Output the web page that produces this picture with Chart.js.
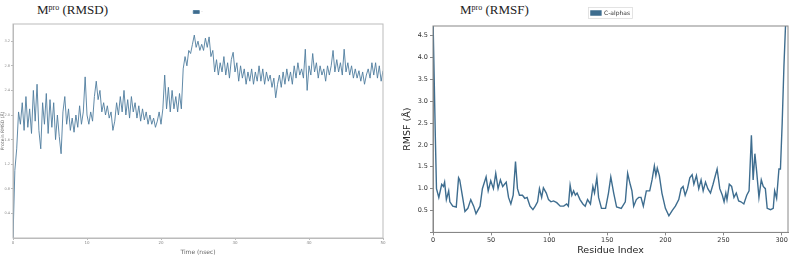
<!DOCTYPE html>
<html>
<head>
<meta charset="utf-8">
<script src="https://cdn.jsdelivr.net/npm/chart.js@4.4.0/dist/chart.umd.min.js"></script>
<style>
body { margin: 0; background: #fff; width: 793px; height: 256px; overflow: hidden; position: relative; }
canvas { position: absolute; top: 0; }
#rmsdChart { left: 0; }
#rmsfChart { left: 400px; }
.ttl { position: absolute; top: 3px; font-family: "Liberation Serif", serif; font-size: 13px; line-height: 14px; color: #222; white-space: nowrap; }
.ttl span { font-size: 8px; position: relative; top: -4px; }
</style>
</head>
<body>
<div class="ttl" style="left:37px">M<span>pro</span> (RMSD)</div>
<div class="ttl" style="left:460px">M<span>pro</span> (RMSF)</div>
<canvas id="rmsdChart" width="400" height="256"></canvas>
<canvas id="rmsfChart" width="393" height="256"></canvas>
<script>
// RMSD, one value every 0.25 ns (0 - 50 ns)
var rmsdStep = 0.25;
var rmsdVal = [
    0.0, 1.1, 1.45, 2.05, 1.85, 2.2, 1.75, 2.3, 1.8, 2.1,
    1.7, 2.4, 1.9, 2.5, 1.75, 1.45, 2.2, 1.85, 2.35, 1.7,
    2.25, 1.8, 2.2, 1.6, 2.0, 1.65, 1.37, 2.05, 2.3, 1.85,
    2.1, 1.75, 1.95, 1.72, 2.0, 1.8, 2.15, 1.85, 2.05, 2.62,
    2.0, 1.85, 2.05, 1.9, 2.3, 2.55, 2.25, 2.4, 2.05, 2.2,
    2.0, 2.15, 1.95, 2.05, 1.75, 1.9, 2.2, 2.0, 2.3, 2.05,
    2.4, 2.0, 2.25, 1.95, 2.3, 2.05, 2.2, 1.95, 2.15, 1.9,
    2.1, 1.92, 2.05, 1.85, 2.0, 1.85, 1.95, 1.8, 1.9, 2.05,
    1.85, 2.1, 2.65, 2.1, 2.45, 2.05, 2.4, 2.1, 2.3, 2.05,
    2.35, 2.1, 2.75, 2.95, 2.8, 3.05, 3.0, 3.15, 3.3, 3.1,
    3.2, 3.05, 3.15, 3.05, 3.25, 3.1, 3.27, 2.95, 3.05, 2.7,
    2.9, 2.65, 2.85, 2.7, 2.95, 2.65, 2.85, 2.6, 2.9, 3.02,
    2.7, 2.85, 2.55, 2.8, 2.6, 2.75, 2.5, 2.7, 2.55, 2.75,
    2.5, 2.7, 2.55, 2.8, 2.55, 2.75, 2.5, 2.7, 2.55, 2.65,
    2.45, 2.6, 2.28, 2.5, 2.65, 2.45, 2.7, 2.5, 2.75, 2.55,
    2.7, 2.5, 2.8, 2.6, 2.85, 2.65, 2.75, 2.6, 3.07, 2.4,
    2.8, 2.65, 3.0, 2.7, 2.85, 2.6, 2.8, 2.65, 2.75, 2.55,
    2.8, 2.65, 2.8, 3.05, 2.7, 2.9, 2.7, 2.85, 2.65, 3.07,
    2.7, 2.85, 2.65, 2.8, 2.6, 2.75, 2.6, 2.72, 2.55, 2.7,
    2.5, 2.65, 2.75, 2.6, 2.85, 2.65, 2.85, 2.6, 2.8, 2.55,
    2.72
];

// RMSF per residue (C-alphas)
var rmsfRes = [0, 2, 3, 5, 7.5, 9, 10, 11.5, 13.5, 14.5, 17, 20, 22, 23, 25.5, 27.5, 30, 32.5, 35, 37,
    40.5, 42.5, 45.7, 47.5, 49.7, 52, 54, 56, 58, 60, 63, 65, 67, 69, 71, 72.7, 74.4, 77, 79, 81,
    83.5, 86, 88, 90, 91.6, 93.5, 95, 97.5, 99.4, 101.5, 103.7, 106.5, 109.5, 112.5, 115, 116.5, 118, 119.5, 121, 122.5,
    124, 126.5, 129, 131, 133, 135.5, 137.6, 139, 141, 142.5, 145, 148.5, 151, 153, 155.5, 158, 162, 165.5, 167.5, 169.7,
    171.2, 172.7, 175, 177, 179, 181, 183.6, 186.5, 188.5, 190.5, 191.8, 193, 194.8, 197, 200, 203, 205.8, 208.6, 211.5, 213.5,
    215.2, 217, 219, 221, 223, 224.5, 226.7, 228.7, 230.7, 232.5, 234.5, 236.5, 238.8, 241, 243, 244.5, 246.8, 249, 250.5, 252,
    253, 255, 257, 259, 261, 263, 265, 267.5, 270, 272, 274, 275.5, 277, 278.5, 280.5, 282.5, 284.2, 286, 287.6, 290.5,
    292.8, 294, 295.7, 297.7, 299, 300.5, 302, 303.4, 305];
var rmsfVal = [4.9, 2.2, 1.0, 0.8, 1.1, 1.05, 1.15, 0.75, 0.95, 0.7, 0.6, 0.58, 1.25, 1.2, 0.8, 0.48, 0.55, 0.75, 0.6, 0.43,
    0.6, 1.0, 1.27, 0.95, 1.18, 1.0, 1.35, 1.0, 1.2, 1.05, 1.15, 0.8, 0.65, 0.85, 1.62, 1.0, 0.85, 0.85, 0.78, 0.8,
    0.6, 0.52, 0.6, 0.7, 1.0, 0.8, 1.02, 0.9, 0.75, 0.7, 0.72, 0.68, 0.6, 0.6, 0.65, 0.6, 1.08, 0.85, 0.95, 0.85,
    0.9, 0.75, 0.65, 0.6, 0.75, 0.65, 1.05, 0.9, 1.25, 0.8, 0.55, 0.55, 0.9, 1.27, 0.9, 0.58, 0.55, 0.7, 1.35, 1.1,
    0.95, 0.6, 0.75, 0.8, 0.8, 0.6, 0.95, 0.95, 1.2, 1.52, 1.3, 1.47, 1.3, 0.9, 0.55, 0.38, 0.5, 0.6, 0.75, 1.0,
    1.05, 0.85, 1.0, 1.25, 1.32, 1.1, 1.3, 1.0, 1.2, 0.95, 1.15, 1.0, 0.9, 1.1, 1.3, 1.45, 1.0, 0.85, 0.7, 0.9,
    0.75, 1.1, 1.05, 0.8, 0.9, 0.72, 0.7, 0.65, 0.85, 0.95, 2.22, 1.2, 1.8, 1.4, 0.8, 1.2, 1.05, 1.0, 0.55, 0.52,
    0.55, 0.95, 0.78, 1.45, 1.45, 2.5, 3.8, 4.75, 4.95];

var rmsdTicks = [0.4, 0.8, 1.2, 1.6, 2.0, 2.4, 2.8, 3.2];

// frame round the plot area (matplotlib spines) and an optional box round the legend
var frame = {
    id: 'frame',
    afterDraw: function (chart, args, opts) {
        var a = chart.chartArea;
        var ctx = chart.ctx;
        ctx.save();
        ctx.strokeStyle = opts.color;
        ctx.lineWidth = opts.width;
        ctx.strokeRect(a.left, a.top, a.right - a.left, a.bottom - a.top);
        if (opts.legendBox) {
            var h = chart.legend.legendHitBoxes[0];
            ctx.strokeStyle = opts.legendBox;
            ctx.lineWidth = 0.8;
            ctx.strokeRect(Math.round(h.left) - 2.5, Math.round(h.top) - 2.5, Math.round(h.width) + 5, Math.round(h.height) + 5);
        }
        ctx.restore();
    }
};

var rmsdData = rmsdVal.map(function (v, i) {
    return {x: i * rmsdStep, y: v};
});
var rmsfData = rmsfVal.map(function (v, i) {
    return {x: rmsfRes[i], y: v};
});

new Chart(document.getElementById('rmsdChart'), {
    type: 'line',
    data: {
        datasets: [{
                label: "-",
                data: rmsdData,
                borderColor: "#4f7d9e",
                backgroundColor: "#3f6b8c",
                borderWidth: 0.9,
                pointRadius: 0,
                fill: false
            }]
    },
    plugins: [frame],
    options: {
        responsive: false,
        animation: false,
        layout: {padding: {top: 6, right: 17, left: 0, bottom: 0}},
        plugins: {
            frame: {color: "#bbbbbb", width: 1},
            tooltip: {enabled: false},
            legend: {
                fullSize: false,
                labels: {boxWidth: 6, boxHeight: 3, padding: 4, color: "#999", font: {size: 4, family: "DejaVu Sans"}}
            }
        },
        scales: {
            x: {
                type: 'linear', min: 0, max: 50,
                afterFit: function (s) { s.height = 18; },
                grid: {drawOnChartArea: false, tickLength: 2, color: "#bbb"},
                border: {color: "#bbb"},
                ticks: {stepSize: 10, padding: 1, color: "#888", font: {size: 4, family: "DejaVu Sans"}},
                title: {display: true, text: "Time (nsec)", color: "#666", padding: 0, font: {size: 6, family: "DejaVu Sans"}}
            },
            y: {
                min: 0, max: 3.48,
                afterFit: function (s) { s.width = 13; },
                afterBuildTicks: function (s) {
                    s.ticks = rmsdTicks.map(function (v) { return {value: v}; });
                },
                grid: {drawOnChartArea: false, tickLength: 2, color: "#bbb"},
                border: {color: "#bbb"},
                ticks: {padding: 1, color: "#888", font: {size: 3.5, family: "DejaVu Sans"},
                    callback: function (v) { return v.toFixed(1); }},
                title: {display: true, text: "Protein RMSD (Å)", color: "#666", padding: 0, font: {size: 4.5, family: "DejaVu Sans"}}
            }
        }
    }
});

new Chart(document.getElementById('rmsfChart'), {
    type: 'line',
    data: {
        datasets: [{
                label: "C-alphas",
                data: rmsfData,
                borderColor: "#3e6d8f",
                backgroundColor: "#3e6d8f",
                borderWidth: 1.4,
                pointRadius: 0,
                fill: false
            }]
    },
    plugins: [frame],
    options: {
        responsive: false,
        animation: false,
        layout: {padding: {top: 6, right: 5, left: 0, bottom: 0}},
        plugins: {
            frame: {color: "#888888", width: 1, legendBox: "#dddddd"},
            tooltip: {enabled: false},
            legend: {
                fullSize: false,
                labels: {boxWidth: 10, boxHeight: 4, padding: 4, color: "#333", font: {size: 6, family: "DejaVu Sans"}}
            }
        },
        scales: {
            x: {
                type: 'linear', min: 0, max: 305.5,
                afterFit: function (s) { s.height = 23.6; },
                grid: {drawOnChartArea: false, tickLength: 3, color: "#888"},
                border: {color: "#888"},
                ticks: {stepSize: 50, padding: 1, color: "#333", includeBounds: false, font: {size: 6.5, family: "DejaVu Sans"}},
                title: {display: true, text: "Residue Index", color: "#222", padding: 0, font: {size: 9.5, family: "DejaVu Sans"}}
            },
            y: {
                min: 0, max: 4.72,
                afterFit: function (s) { s.width = 33; },
                grid: {drawOnChartArea: false, tickLength: 3, color: "#888"},
                border: {color: "#888"},
                ticks: {stepSize: 0.5, padding: 2, color: "#333", includeBounds: false, font: {size: 6.5, family: "DejaVu Sans"},
                    callback: function (v) { return v === 0 ? "" : v.toFixed(1); }},
                title: {display: true, text: "RMSF (Å)", color: "#222", padding: 2, font: {size: 9.5, family: "DejaVu Sans"}}
            }
        }
    }
});
</script>
</body>
</html>
